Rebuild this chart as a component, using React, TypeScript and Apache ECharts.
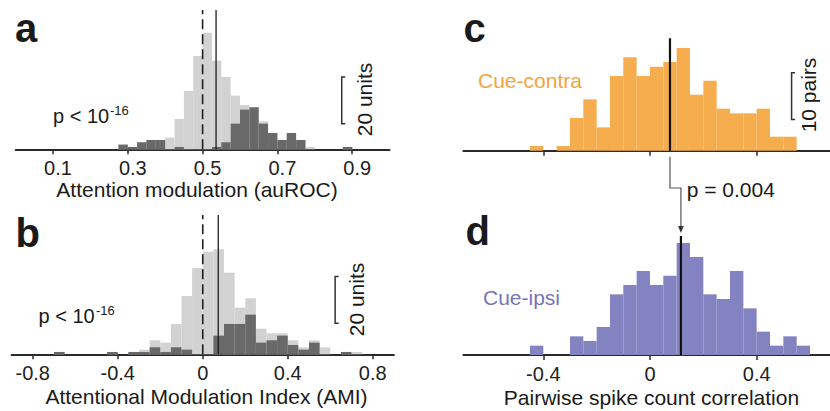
import React, { useEffect, useRef } from 'react';
import * as echarts from 'echarts';

const FONT = '"Liberation Sans", Arial, Helvetica, sans-serif';

// ---- Panel a: attention modulation (auROC), bins of 0.025 starting at 0.275
const aBinStart = 0.275;
const aBinWidth = 0.025;
const aAllUnits = [2, 1, 3, 4, 4, 5, 13, 25, 40, 50, 38, 31, 23, 19, 18, 12, 7, 4, 7, 4, 1, 0, 0, 0, 1];
const aSigUnits = [2, 1, 3, 4, 4, 0, 1, 0, 0, 0, 1, 3, 11, 17, 18, 11, 7, 4, 7, 4, 0, 0, 0, 0, 1];
const aTicks = [0.1, 0.3, 0.5, 0.7, 0.9];
const aNull = 0.5;
const aMedian = 0.536;

// ---- Panel b: AMI, bins of 0.05 starting at -0.7
const bBinStart = -0.7;
const bBinWidth = 0.05;
const bAllUnits = [1, 0, 0, 0, 0, 1, 0, 1, 2, 6, 5, 13, 25, 37, 44, 45, 35, 20, 24, 11, 9, 9, 6, 3, 6, 3, 0, 1, 1];
const bSigUnits = [1, 0, 0, 0, 0, 1, 0, 1, 1, 3, 1, 3, 2, 0, 0, 8, 13, 13, 17, 5, 6, 8, 4, 2, 5, 0, 0, 1, 0];
const bTicks = [-0.8, -0.4, 0, 0.4, 0.8];
const bNull = 0;
const bMedian = 0.073;

// ---- Panels c/d: pairwise spike count correlation, bins of 0.05 starting at -0.45
const cdBinStart = -0.45;
const cdBinWidth = 0.05;
const cContraPairs = [1, 0, 1, 7, 11, 5, 16, 20, 16, 18, 19, 22, 12, 15, 9, 8, 8, 9, 3, 3];
const dIpsiPairs = [2, 0, 0, 4, 3, 6, 13, 15, 18, 15, 17, 24, 21, 13, 12, 18, 10, 5, 2, 4, 2];
const cdTicks = [-0.4, 0, 0.4];
const cMedian = 0.075;
const dMedian = 0.116;

const LIGHT = '#d2d2d2';
const DARK = '#696969';
const ORANGE = '#f6ad4e';
const PURPLE = '#8383c1';
const AXIS = '#2a2a2a';

const toBins = (start: number, width: number, counts: number[]) =>
  counts.map((c, i) => [start + i * width, start + (i + 1) * width, c]);

const histRender = (color: string) => (params: any, api: any) => {
  const p0 = api.coord([api.value(0), 0]);
  const p1 = api.coord([api.value(1), api.value(2)]);
  return {
    type: 'rect',
    shape: { x: p0[0], y: p1[1], width: p1[0] - p0[0], height: p0[1] - p1[1] },
    style: { fill: color },
  };
};

const histSeries = (grid: number, color: string, data: number[][], z = 2) => ({
  type: 'custom',
  xAxisIndex: grid,
  yAxisIndex: grid,
  renderItem: histRender(color),
  data,
  encode: { x: [0, 1], y: 2 },
  z,
  silent: true,
});

const vLine = (grid: number, x: number, top: number, width: number, type: any = 'solid', color = '#1e1e1e') => ({
  type: 'line',
  xAxisIndex: grid,
  yAxisIndex: grid,
  data: [[x, 0], [x, top]],
  symbol: 'none',
  lineStyle: { color, width, type },
  z: 5,
  silent: true,
});

const xAxisBase = (grid: number, min: number, max: number, ticks: number[], showLabels: boolean, shift = 0) => ({
  type: 'value',
  gridIndex: grid,
  min,
  max,
  axisLine: { show: true, onZero: false, lineStyle: { color: AXIS, width: 1.8 } },
  axisTick: { show: true, customValues: ticks, length: 5, lineStyle: { color: AXIS, width: 1.5 } },
  axisLabel: {
    show: showLabels,
    customValues: ticks,
    fontSize: 20,
    fontFamily: FONT,
    color: '#222',
    margin: 9,
    padding: [0, 0, 0, shift * 2],
    formatter: (v: number) => String(Math.round(v * 10) / 10),
  },
  splitLine: { show: false },
});

const yAxisBase = (grid: number, max: number) => ({
  type: 'value',
  gridIndex: grid,
  min: 0,
  max,
  show: false,
});

export default function App() {
  const ref = useRef<HTMLDivElement>(null);

  useEffect(() => {
    const chart = echarts.init(ref.current!, null, { renderer: 'svg' });
    const option: any = {
      animation: false,
      grid: [
        { left: 15.6, top: 9.3, width: 374, height: 140 },
        { left: 11.5, top: 214.3, width: 382.5, height: 140 },
        { left: 463.3, top: 34, width: 366.7, height: 116.7 },
        { left: 463.3, top: 233.7, width: 366.7, height: 121.3 },
      ],
      xAxis: [
        xAxisBase(0, 0, 1, aTicks, true, 5),
        xAxisBase(1, -0.9, 0.9, bTicks, true),
        xAxisBase(2, -0.7, 0.675, cdTicks, false),
        xAxisBase(3, -0.7, 0.675, cdTicks, true),
      ],
      yAxis: [yAxisBase(0, 60), yAxisBase(1, 60), yAxisBase(2, 25), yAxisBase(3, 26)],
      series: [
        histSeries(0, LIGHT, toBins(aBinStart, aBinWidth, aAllUnits), 2),
        histSeries(0, DARK, toBins(aBinStart, aBinWidth, aSigUnits), 3),
        histSeries(1, LIGHT, toBins(bBinStart, bBinWidth, bAllUnits), 2),
        histSeries(1, DARK, toBins(bBinStart, bBinWidth, bSigUnits), 3),
        histSeries(2, ORANGE, toBins(cdBinStart, cdBinWidth, cContraPairs), 2),
        histSeries(3, PURPLE, toBins(cdBinStart, cdBinWidth, dIpsiPairs), 2),
        vLine(0, aNull, 59.7, 1.6, [10, 5]),
        vLine(0, aMedian, 59.7, 1.3),
        vLine(1, bNull, 59.7, 1.6, [10, 5]),
        vLine(1, bMedian, 59.7, 1.3),
        vLine(2, cMedian, 24.1, 2.2, 'solid', '#111'),
        vLine(3, dMedian, 25.5, 2.2, 'solid', '#111'),
      ],
    };
    chart.setOption(option);

    const px = (grid: number, v: number[]) => chart.convertToPixel({ gridIndex: grid }, v) as number[];

    const bracket = (grid: number, x: number, y0: number, y1: number) => {
      const p0 = px(grid, [x, y0]);
      const p1 = px(grid, [x, y1]);
      return {
        type: 'polyline',
        shape: { points: [[p1[0] + 3.5, p1[1]], [p1[0], p1[1]], [p0[0], p0[1]], [p0[0] + 3.5, p0[1]]] },
        style: { stroke: '#333', lineWidth: 1.5, fill: null },
        z: 10,
      };
    };

    const text = (t: string, x: number, y: number, size: number, opts: any = {}) => ({
      type: 'text',
      x,
      y,
      rotation: opts.rotation || 0,
      style: {
        text: t,
        fontSize: size,
        fontFamily: FONT,
        fontWeight: opts.bold ? 'bold' : 'normal',
        fill: opts.color || '#1a1a1a',
        align: opts.align || 'left',
        verticalAlign: 'middle',
      },
      z: 10,
    });

    const cAxis = px(2, [cMedian, 0]);
    const dTop = px(3, [dMedian, 25.5]);
    const elbowY = 188;

    const graphic: any[] = [
      text('a', 15, 28, 40, { bold: true }),
      text('b', 15.5, 232.7, 40, { bold: true }),
      text('c', 463.5, 27.7, 40, { bold: true }),
      text('d', 465.5, 231, 40, { bold: true }),
      text('p < 10', 53, 116, 20),
      text('-16', 110, 110.5, 13),
      text('p < 10', 38.5, 316, 20),
      text('-16', 96, 310.5, 13),
      text('Attention modulation (auROC)', 197, 189.6, 21, { align: 'center' }),
      text('Attentional Modulation Index (AMI)', 206.5, 396.5, 21, { align: 'center' }),
      text('Pairwise spike count correlation', 651.5, 397, 21, { align: 'center' }),
      text('20 units', 364.6, 99.5, 21, { align: 'center', rotation: Math.PI / 2 }),
      text('20 units', 356, 299.5, 21, { align: 'center', rotation: Math.PI / 2 }),
      text('10 pairs', 808.7, 95, 21, { align: 'center', rotation: Math.PI / 2 }),
      text('Cue-contra', 478, 80.6, 21, { color: '#f4a53c' }),
      text('Cue-ipsi', 483, 297.6, 21, { color: '#7575b9' }),
      text('p = 0.004', 686.7, 189.3, 21),
      bracket(0, 0.872, 11, 31),
      bracket(1, 0.623, 13.3, 33.3),
      bracket(2, 0.531, 6.7, 16.7),
      {
        type: 'polyline',
        shape: {
          points: [
            [cAxis[0], cAxis[1] + 6],
            [cAxis[0], elbowY],
            [dTop[0], elbowY],
            [dTop[0], dTop[1] - 6],
          ],
        },
        style: { stroke: '#555', lineWidth: 1.2, fill: null },
        z: 10,
      },
      {
        type: 'polygon',
        shape: {
          points: [
            [dTop[0] - 2.8, dTop[1] - 10],
            [dTop[0] + 2.8, dTop[1] - 10],
            [dTop[0], dTop[1] - 3],
          ],
        },
        style: { fill: '#333' },
        z: 10,
      },
    ];
    chart.setOption({ graphic });

    return () => chart.dispose();
  }, []);

  return <div ref={ref} style={{ position: 'absolute', left: 0, top: 0, width: 830, height: 411 }} />;
}
